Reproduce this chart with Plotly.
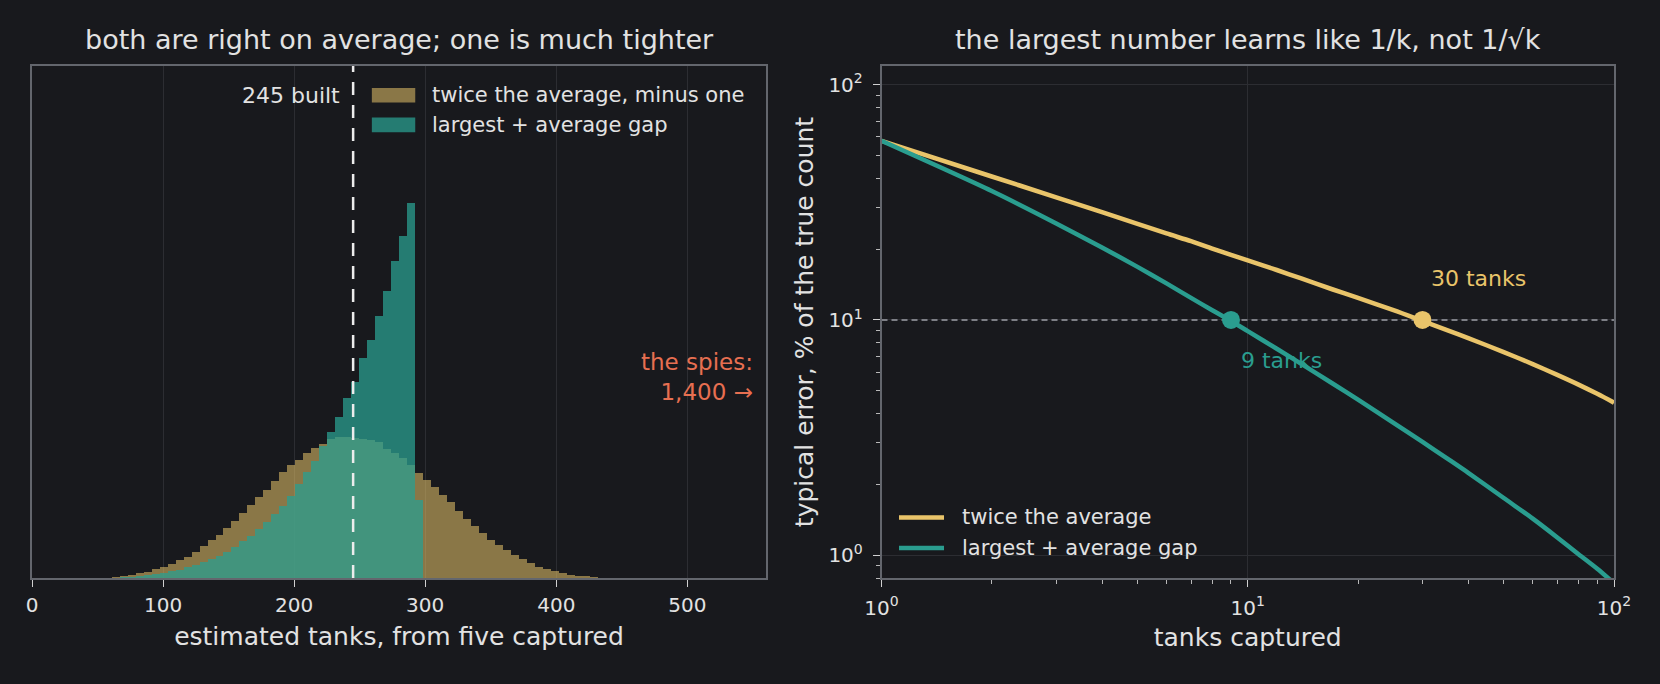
import numpy as np
import plotly.graph_objects as go

# ---------------- data ----------------
TRUE_COUNT = 245
BIN_WIDTH = 560 / 92          # histogram bin width (tanks)
FIRST_BIN = 9                 # index of first non-empty bin

# histogram heights (relative frequency, arbitrary units) for bins FIRST_BIN, FIRST_BIN+1, ...
twice_avg_hist = [0.5, 1, 2, 3, 5, 6, 9, 11, 14, 18, 21, 26, 32, 38, 43, 50, 57, 65, 73, 81,
                  88, 97, 106, 113, 118, 125, 130, 134, 139, 141, 141, 140, 139, 138, 136, 129,
                  125, 120, 113, 105, 98, 91, 83, 76, 67, 59, 52, 45, 38, 33, 28, 23, 19, 15,
                  11, 9, 7, 5, 3, 2, 2, 1, 0.5]
largest_gap_hist = [0.3, 0.5, 1, 1.3, 2, 3, 4, 5, 7, 8, 11, 13, 16, 19, 22, 26, 31, 37, 42, 49,
                    56, 64, 72, 82, 94, 106, 117, 132, 146, 161, 180, 196, 220, 238, 262, 287,
                    317, 342, 375, 78]

# typical error (% of true count) vs tanks captured
tanks_captured = [1, 2, 3, 4, 5, 6, 7, 8, 9, 10, 12, 14, 17, 20, 25, 30, 35, 40, 50, 60, 70, 80, 90, 100]
twice_avg_err = [57.7, 40.7, 33.2, 28.7, 25.6, 23.3, 21.6, 20.1, 18.9, 17.9, 16.3, 15.0, 13.5,
                 12.4, 11.0, 9.9, 9.05, 8.37, 7.30, 6.49, 5.84, 5.31, 4.85, 4.45]
largest_gap_err = [57.7, 35.3, 25.7, 20.3, 16.8, 14.3, 12.4, 11.0, 9.9, 8.96, 7.54, 6.50, 5.38,
                   4.58, 3.65, 3.03, 2.58, 2.24, 1.75, 1.43, 1.19, 1.01, 0.876, 0.76]
TARGET_ERR = 10
k_at_target = {"largest": 9, "twice": 30}

# ---------------- style ----------------
BG = "#18191d"
TXT = "#e2e2e2"
GOLD = "#e9c46a"
TEAL = "#2a9d8f"
CORAL = "#e76f51"
GOLD_A = "rgba(233,196,106,0.55)"
TEAL_A = "rgba(42,157,143,0.75)"
SPINE = "#63666d"
GRID = "#2c2d32"
FONT = "DejaVu Sans"

gold_x = [(FIRST_BIN + i + 0.5) * BIN_WIDTH for i in range(len(twice_avg_hist))]
teal_x = [(FIRST_BIN + i + 0.5) * BIN_WIDTH for i in range(len(largest_gap_hist))]

fig = go.Figure()
fig.add_trace(go.Bar(x=gold_x, y=twice_avg_hist, width=BIN_WIDTH, name="twice the average, minus one",
                     marker=dict(color=GOLD_A, line=dict(width=0)), showlegend=False,
                     xaxis="x", yaxis="y"))
fig.add_trace(go.Bar(x=teal_x, y=largest_gap_hist, width=BIN_WIDTH, name="largest + average gap",
                     marker=dict(color=TEAL_A, line=dict(width=0)), showlegend=False,
                     xaxis="x", yaxis="y"))

# right panel
fig.add_trace(go.Scatter(x=[tanks_captured[0], tanks_captured[-1]], y=[TARGET_ERR, TARGET_ERR],
                         mode="lines", line=dict(color="#7d7f86", width=2, dash="6px,4px"),
                         showlegend=False, hoverinfo="skip", xaxis="x2", yaxis="y2"))
fig.add_trace(go.Scatter(x=tanks_captured, y=twice_avg_err, mode="lines", name="twice the average",
                         line=dict(color=GOLD, width=4.5, shape="spline", smoothing=0.8),
                         showlegend=False, xaxis="x2", yaxis="y2"))
fig.add_trace(go.Scatter(x=tanks_captured, y=largest_gap_err, mode="lines", name="largest + average gap",
                         line=dict(color=TEAL, width=4.5, shape="spline", smoothing=0.8),
                         showlegend=False, xaxis="x2", yaxis="y2"))
fig.add_trace(go.Scatter(x=[k_at_target["largest"]], y=[TARGET_ERR], mode="markers",
                         marker=dict(color=TEAL, size=18), showlegend=False, xaxis="x2", yaxis="y2"))
fig.add_trace(go.Scatter(x=[k_at_target["twice"]], y=[TARGET_ERR], mode="markers",
                         marker=dict(color=GOLD, size=18), showlegend=False, xaxis="x2", yaxis="y2"))

L, R, T, B = 32, 46, 66, 106
W, H = 1660, 684
pw = W - L - R
left_dom = [0, 734 / pw]
right_dom = [(881.5 - L) / pw, 1]

axis_common = dict(showline=True, linecolor=SPINE, linewidth=1.5, mirror=True, zeroline=False,
                   ticks="outside", ticklen=7, tickwidth=1.3, tickcolor="#d0d0d0",
                   tickfont=dict(family=FONT, size=20, color=TXT))

minor_y = [0.8, 0.9] + [v for v in range(2, 10)] + [v * 10 for v in range(2, 10)]
minor_x = [v for v in range(2, 10)] + [v * 10 for v in range(2, 10)]

fig.update_layout(
    width=W, height=H,
    paper_bgcolor=BG, plot_bgcolor=BG,
    margin=dict(l=L, r=R, t=T, b=B),
    barmode="overlay", bargap=0,
    font=dict(family=FONT, color=TXT),
    showlegend=False,
    xaxis=dict(domain=left_dom, anchor="y", range=[0, 560],
               tickvals=[0, 100, 200, 300, 400, 500],
               showgrid=True, gridcolor=GRID, gridwidth=1.3,
               ticklabelstandoff=1,
               title=dict(text="estimated tanks, from five captured",
                          font=dict(family=FONT, size=25, color=TXT), standoff=12),
               **axis_common),
    yaxis=dict(domain=[0, 1], anchor="x", range=[0, 512], showticklabels=False, ticks="",
               showgrid=False, showline=True, linecolor=SPINE, linewidth=1.5, mirror=True,
               zeroline=False),
    xaxis2=dict(domain=right_dom, anchor="y2", type="log", range=[0, 2],
                tickvals=[1, 10, 100],
                ticktext=["10<sup>0</sup>", "10<sup>1</sup>", "10<sup>2</sup>"],
                showgrid=True, gridcolor=GRID, gridwidth=1.3,
                ticklabelstandoff=4,
                minor=dict(tickvals=minor_x, ticks="outside", ticklen=4, tickwidth=1,
                           tickcolor="#b8b8b8", showgrid=False),
                title=dict(text="tanks captured",
                           font=dict(family=FONT, size=25, color=TXT), standoff=10),
                **axis_common),
    yaxis2=dict(domain=[0, 1], anchor="x2", type="log",
                range=[np.log10(0.8), np.log10(120)],
                tickvals=[1, 10, 100],
                ticktext=["10<sup>0</sup>", "10<sup>1</sup>", "10<sup>2</sup>"],
                showgrid=True, gridcolor=GRID, gridwidth=1.3,
                ticklabelstandoff=6,
                minor=dict(tickvals=minor_y, ticks="outside", ticklen=4, tickwidth=1,
                           tickcolor="#b8b8b8", showgrid=False),
                title=dict(text="typical error, % of the true count",
                           font=dict(family=FONT, size=25, color=TXT), standoff=8),
                **axis_common),
)

# vertical marker for the true count
fig.add_shape(type="line", xref="x", yref="y domain", x0=TRUE_COUNT, x1=TRUE_COUNT, y0=0, y1=1,
              line=dict(color="#ececec", width=2.5, dash="13px,10px"), layer="above")

ann = []
ph = H - T - B
def ydom(py):
    return (H - B - py) / ph
def xdomL(px):
    return (px - 31.6) / 733.9
def xdomR(px):
    return (px - 881.5) / 732.3

# titles
ann.append(dict(text="both are right on average; one is much tighter", xref="x domain", yref="y domain",
                x=0.5, y=ydom(39), xanchor="center", yanchor="middle",
                showarrow=False, font=dict(family=FONT, size=27, color=TXT)))
ann.append(dict(text="the largest number learns like 1/k, not 1/√k", xref="x2 domain", yref="y2 domain",
                x=0.5, y=ydom(39), xanchor="center", yanchor="middle",
                showarrow=False, font=dict(family=FONT, size=27, color=TXT)))
# 245 built
ann.append(dict(text=f"{TRUE_COUNT} built", xref="x", yref="y domain", x=TRUE_COUNT, y=ydom(95.2),
                xanchor="right", yanchor="middle", xshift=-11, showarrow=False,
                font=dict(family=FONT, size=22, color=TXT)))
# spies
ann.append(dict(text="the spies:<br>1,400 →", xref="x domain", yref="y domain", x=0.985, y=ydom(377.2),
                xanchor="right", yanchor="middle", align="right", showarrow=False,
                font=dict(family=FONT, size=23, color=CORAL)))

# left legend (drawn manually to mimic wide swatches)
for i, (lbl, col) in enumerate([("twice the average, minus one", GOLD_A), ("largest + average gap", TEAL_A)]):
    yc = 95.2 + i * 29.7
    fig.add_shape(type="rect", xref="x domain", yref="y domain",
                  x0=xdomL(371.4), x1=xdomL(414.8), y0=ydom(yc + 7.3), y1=ydom(yc - 7.3),
                  fillcolor=col, line=dict(width=0))
    ann.append(dict(text=lbl, xref="x domain", yref="y domain", x=xdomL(430), y=ydom(yc),
                    xanchor="left", yanchor="middle", showarrow=False,
                    font=dict(family=FONT, size=21, color=TXT)))

# right legend
for i, (lbl, col) in enumerate([("twice the average", GOLD), ("largest + average gap", TEAL)]):
    yc = 517.4 + i * 30.6
    fig.add_shape(type="line", xref="x2 domain", yref="y2 domain",
                  x0=xdomR(899), x1=xdomR(944), y0=ydom(yc), y1=ydom(yc),
                  line=dict(color=col, width=4.5))
    ann.append(dict(text=lbl, xref="x2 domain", yref="y2 domain", x=xdomR(960), y=ydom(yc),
                    xanchor="left", yanchor="middle", showarrow=False,
                    font=dict(family=FONT, size=21, color=TXT)))

# point labels
ann.append(dict(text=f"{k_at_target['largest']} tanks", xref="x2", yref="y2",
                x=np.log10(k_at_target["largest"]), y=np.log10(TARGET_ERR),
                xanchor="left", yanchor="middle", xshift=8, yshift=-41, showarrow=False,
                font=dict(family=FONT, size=22, color=TEAL)))
ann.append(dict(text=f"{k_at_target['twice']} tanks", xref="x2", yref="y2",
                x=np.log10(k_at_target["twice"]), y=np.log10(TARGET_ERR),
                xanchor="left", yanchor="middle", xshift=6, yshift=41, showarrow=False,
                font=dict(family=FONT, size=22, color=GOLD)))

fig.update_layout(annotations=ann)
fig.write_html("out.html", config={"displayModeBar": False},
               post_script="document.body.style.margin='0';document.body.style.background='#18191d';")
